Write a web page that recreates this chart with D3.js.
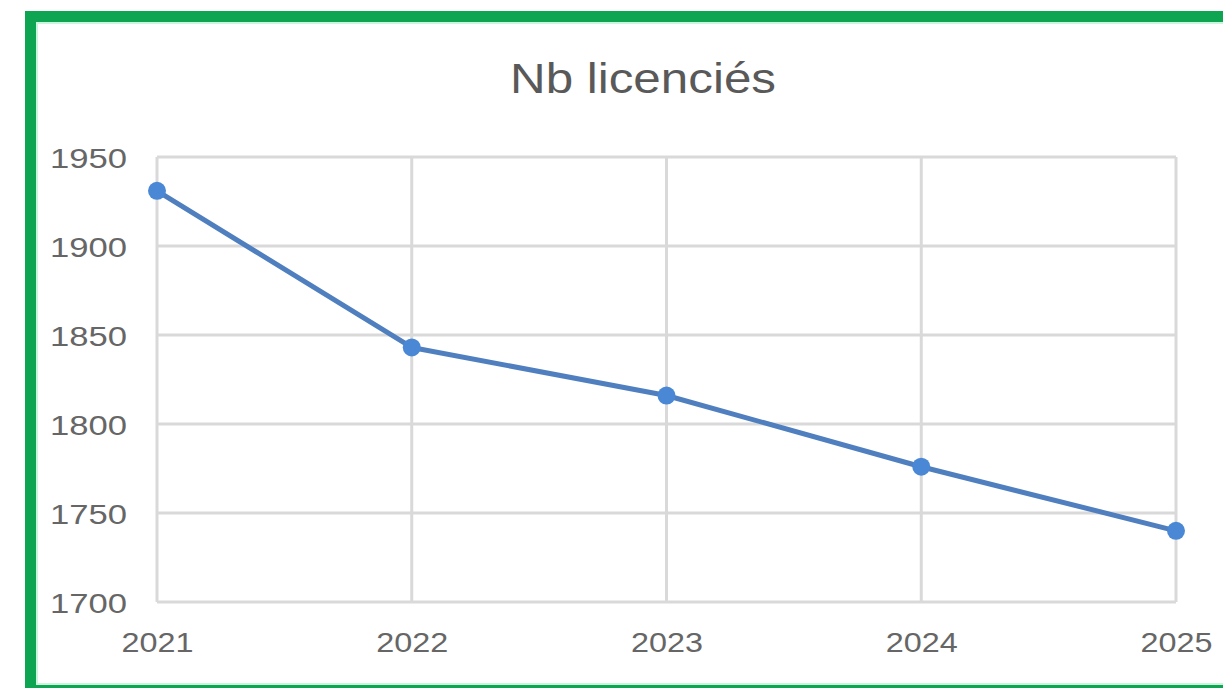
<!DOCTYPE html>
<html>
<head>
<meta charset="utf-8">
<script src="https://cdn.jsdelivr.net/npm/d3@7"></script>
<style>
html,body{margin:0;padding:0;background:#fff;}
svg{display:block;}
</style>
</head>
<body>
<svg id="chart" width="1223" height="688"></svg>
<script>
const title = "Nb licenciés";
const years = ["2021", "2022", "2023", "2024", "2025"];
const values = [1931, 1843, 1816, 1776, 1740];
const yTicks = [1700, 1750, 1800, 1850, 1900, 1950];

const svg = d3.select("#chart");
const W = 1223, H = 688;

// frame
svg.append("rect").attr("x", 0).attr("y", 0).attr("width", W).attr("height", H).attr("fill", "#fff");
svg.append("rect").attr("x", 30.5).attr("y", 16.5).attr("width", W + 20).attr("height", 674)
  .attr("fill", "#fff").attr("stroke", "#0ea552").attr("stroke-width", 11);
svg.append("rect").attr("x", 37).attr("y", 23).attr("width", W).attr("height", 661)
  .attr("fill", "none").attr("stroke", "#c9f5dc").attr("stroke-width", 2);

const m = {left: 157, right: 1176, top: 157, bottom: 602};
const x = d3.scalePoint().domain(years).range([m.left, m.right]);
const y = d3.scaleLinear().domain([1700, 1950]).range([m.bottom, m.top]);

const font = "'Liberation Sans', Arial, sans-serif";

// gridlines
svg.append("g").selectAll("line.h").data(yTicks).join("line")
  .attr("x1", m.left).attr("x2", m.right)
  .attr("y1", d => y(d)).attr("y2", d => y(d))
  .attr("stroke", "#d9d9d9").attr("stroke-width", 3);
svg.append("g").selectAll("line.v").data(years).join("line")
  .attr("x1", d => x(d)).attr("x2", d => x(d))
  .attr("y1", m.top).attr("y2", m.bottom)
  .attr("stroke", "#d9d9d9").attr("stroke-width", 3);

// y axis
const yAxis = svg.append("g").attr("transform", `translate(${m.left - 30},0)`)
  .call(d3.axisLeft(y).tickValues(yTicks).tickFormat(d3.format("d")).tickSize(0).tickPadding(0));
yAxis.select(".domain").remove();
yAxis.selectAll("text").attr("font-family", font).attr("font-size", 28)
  .attr("fill", "#666").attr("dy", "0.36em")
  .attr("textLength", 77).attr("lengthAdjust", "spacingAndGlyphs");

// x axis
const xAxis = svg.append("g").attr("transform", `translate(0,${m.bottom + 30})`)
  .call(d3.axisBottom(x).tickSize(0).tickPadding(0));
xAxis.select(".domain").remove();
xAxis.selectAll("text").attr("font-family", font).attr("font-size", 28)
  .attr("fill", "#666").attr("dy", "0.71em")
  .attr("textLength", 72).attr("lengthAdjust", "spacingAndGlyphs");

// title
svg.append("text").attr("x", 643).attr("y", 93).attr("text-anchor", "middle")
  .attr("font-family", font).attr("font-size", 42).attr("fill", "#595959")
  .attr("textLength", 266).attr("lengthAdjust", "spacingAndGlyphs")
  .text(title);

// line
const line = d3.line().x((d, i) => x(years[i])).y(d => y(d));
svg.append("path").datum(values).attr("d", line)
  .attr("fill", "none").attr("stroke", "#4f7fbe").attr("stroke-width", 5)
  .attr("stroke-linejoin", "round");

svg.append("g").selectAll("circle").data(values).join("circle")
  .attr("cx", (d, i) => x(years[i])).attr("cy", d => y(d)).attr("r", 9)
  .attr("fill", "#4a88d6");
</script>
</body>
</html>
